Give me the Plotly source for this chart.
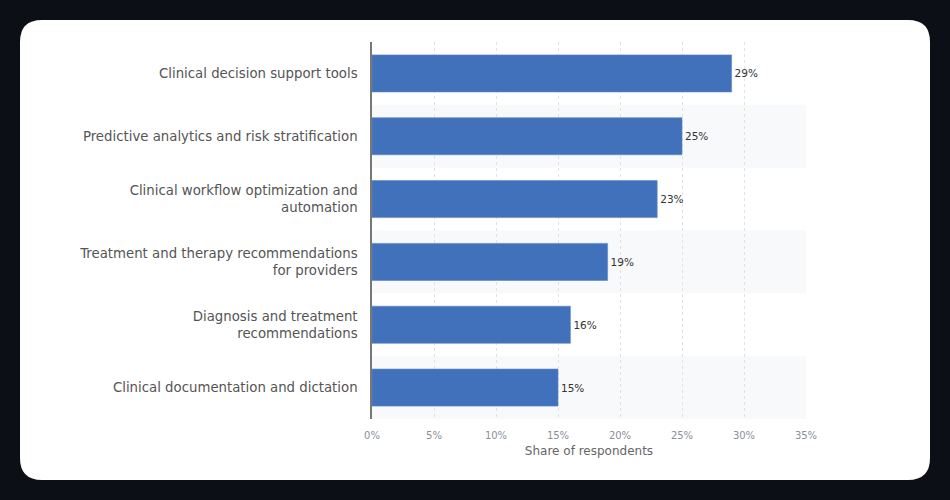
import plotly.graph_objects as go

categories = [
    "Clinical decision support tools",
    "Predictive analytics and risk stratification",
    "Clinical workflow optimization and<br>automation",
    "Treatment and therapy recommendations<br>for providers",
    "Diagnosis and treatment<br>recommendations",
    "Clinical documentation and dictation",
]
values = [29, 25, 23, 19, 16, 15]
labels = [f"{v}%" for v in values]
x_ticks = [0, 5, 10, 15, 20, 25, 30, 35]
x_tick_text = [f"{t}%" for t in x_ticks]
x_title = "Share of respondents"

W, H = 950, 500
L, R, T, B = 372, 144, 42, 81
pw, ph = W - L - R, H - T - B

def px_to_paper(x, y):
    return (x - L) / pw, (H - B - y) / ph

def rounded_rect_path(x0, y0, x1, y1, r):
    def p(x, y):
        X, Y = px_to_paper(x, y)
        return f"{X:.5f},{Y:.5f}"
    return (f"M {p(x0 + r, y0)} L {p(x1 - r, y0)} Q {p(x1, y0)} {p(x1, y0 + r)} "
            f"L {p(x1, y1 - r)} Q {p(x1, y1)} {p(x1 - r, y1)} "
            f"L {p(x0 + r, y1)} Q {p(x0, y1)} {p(x0, y1 - r)} "
            f"L {p(x0, y0 + r)} Q {p(x0, y0)} {p(x0 + r, y0)} Z")

font_family = "DejaVu Sans, Verdana, sans-serif"

fig = go.Figure()
fig.add_trace(go.Bar(
    x=values, y=list(range(len(categories))), orientation="h",
    marker=dict(color="#4171ba", line=dict(color="#5a86c8", width=0.6)),
    width=0.59,
    text=labels, textposition="outside", cliponaxis=False,
    textfont=dict(size=10.5, color="#333333", family=font_family),
    hoverinfo="skip",
))

shapes = [dict(type="path", xref="paper", yref="paper",
               path=rounded_rect_path(20, 20, 930, 480, 22),
               fillcolor="white", line=dict(width=0), layer="below")]
for i in range(len(categories)):
    if i % 2 == 1:
        shapes.append(dict(type="rect", xref="x", yref="y", x0=0, x1=35,
                           y0=i - 0.5, y1=i + 0.5, fillcolor="#f8f9fb",
                           line=dict(width=0), layer="below"))

fig.update_layout(
    width=W, height=H,
    margin=dict(l=L, r=R, t=T, b=B, pad=0),
    paper_bgcolor="#0c0f15", plot_bgcolor="rgba(0,0,0,0)",
    shapes=shapes, showlegend=False,
    font=dict(family=font_family),
    xaxis=dict(range=[0, 35], tickvals=x_ticks, ticktext=x_tick_text,
               showgrid=True, gridcolor="#e2e2e2", griddash="dot", gridwidth=1,
               zeroline=False, showline=False,
               tickfont=dict(size=10, color="#8a8f99"),
               ticks="outside", ticklen=7, tickcolor="rgba(0,0,0,0)",
               title=dict(text=x_title, font=dict(size=12, color="#666666"), standoff=6),
               fixedrange=True),
    yaxis=dict(range=[5.5, -0.5], tickvals=list(range(len(categories))), ticktext=categories,
               showgrid=False, zeroline=False, showline=True, linecolor="#777777", linewidth=1.5,
               tickfont=dict(size=13.3, color="#555555"),
               ticks="outside", ticklen=10, tickcolor="rgba(0,0,0,0)",
               fixedrange=True),
)

fig.write_html("out.html")
